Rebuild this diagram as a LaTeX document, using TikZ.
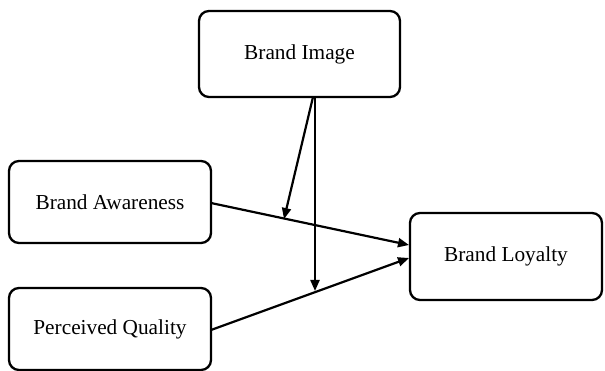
\documentclass[tikz,border=0pt]{standalone}
\usepackage{fontspec}
\setmainfont{Liberation Serif}
\usetikzlibrary{arrows.meta,calc}
\begin{document}
\begin{tikzpicture}[x=1pt,y=-1pt,
  box/.style={draw=black,line width=2.3pt,rounded corners=10pt,inner sep=0pt,font=\fontsize{21.3}{25}\selectfont,align=center},
  conn/.style={line width=2.2pt,-{Triangle[length=11pt,width=9pt]}}]
\useasboundingbox (0,0) rectangle (605,371);
\node[box,minimum width=201pt,minimum height=86pt] (BI) at (299.5,54) {Brand Image};
\node[box,minimum width=202pt,minimum height=82pt] (BA) at (110,202) {Brand Awareness};
\node[box,minimum width=202pt,minimum height=82pt] (PQ) at (110,329) {Perceived Quality};
\node[box,minimum width=192pt,minimum height=87pt] (BL) at (506,256.5) {Brand Loyalty};
\coordinate (BAout) at (211,203);
\coordinate (PQout) at (211,330);
\coordinate (BLin1) at (409,245);
\coordinate (BLin2) at (409,258);
\coordinate (BIout1) at (313,97);
\coordinate (BIout2) at (315,97);
\coordinate (m1) at (284,219);
\coordinate (m2) at (315,291);
\draw[conn] (BAout) -- (BLin1);
\draw[conn] (PQout) -- (BLin2);
\draw[conn] (BIout1) -- (m1);
\draw[conn] (BIout2) -- (m2);
\end{tikzpicture}
\end{document}
